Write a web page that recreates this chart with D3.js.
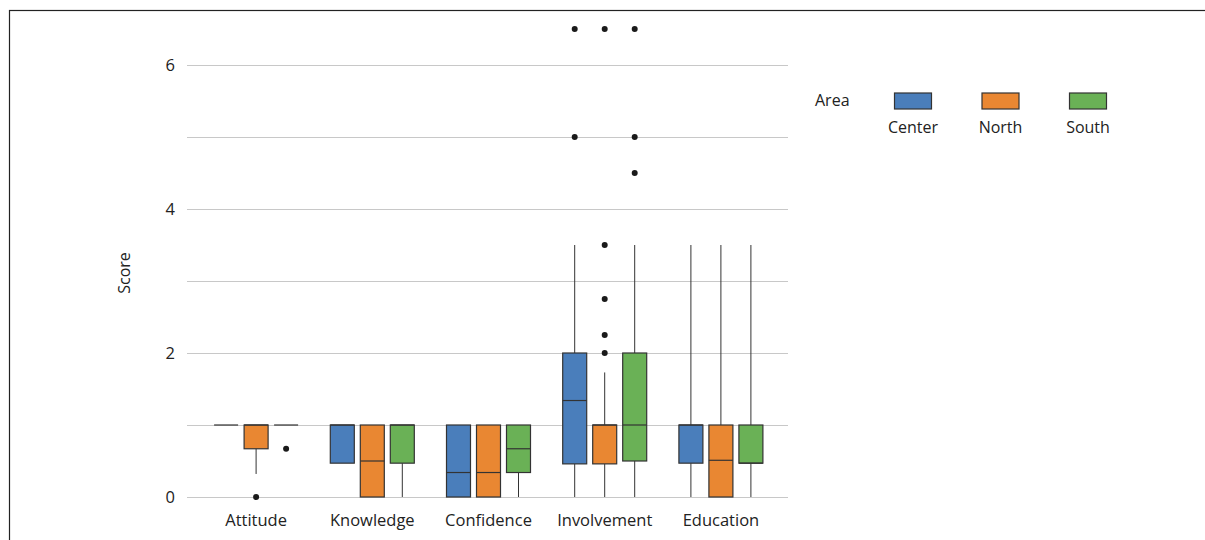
<!DOCTYPE html>
<html>
<head>
<meta charset="utf-8">
<script src="https://cdn.jsdelivr.net/npm/d3@7"></script>
<style>
body { margin: 0; background: #fff; }
text { font-family: "Open Sans", sans-serif; fill: #222; }
</style>
</head>
<body>
<script>
var categories = ["Attitude", "Knowledge", "Confidence", "Involvement", "Education"];
var areas = ["Center", "North", "South"];
var colors = ["#4a7ebb", "#e98732", "#6ab156"];
var yTicks = [0, 2, 4, 6];

// [low whisker, q1, median, q3, high whisker] per category
var centerBoxes = [[1, 1, 1, 1, 1], [0.47, 0.47, 1, 1, 1], [0, 0, 0.34, 1, 1], [0, 0.46, 1.34, 2, 3.5], [0, 0.47, 1, 1, 3.5]];
var northBoxes = [[0.32, 0.67, 1, 1, 1], [0, 0, 0.5, 1, 1], [0, 0, 0.34, 1, 1], [0, 0.46, 1, 1, 1.73], [0, 0, 0.51, 1, 3.5]];
var southBoxes = [[1, 1, 1, 1, 1], [0, 0.47, 1, 1, 1], [0, 0.34, 0.67, 1, 1], [0, 0.5, 1, 2, 3.5], [0, 0.47, 0.47, 1, 3.5]];

var centerOutliers = [[], [], [], [5, 6.5], []];
var northOutliers = [[0], [], [], [2, 2.25, 2.75, 3.5, 6.5], []];
var southOutliers = [[0.67], [], [], [4.5, 5, 6.5], []];

var boxes = [centerBoxes, northBoxes, southBoxes];
var outliers = [centerOutliers, northOutliers, southOutliers];

var width = 1205, height = 540;
var svg = d3.select("body").append("svg")
    .attr("width", width)
    .attr("height", height);

// frame
svg.append("rect")
    .attr("x", 9.5).attr("y", 10.5)
    .attr("width", 1300).attr("height", 600)
    .attr("fill", "none")
    .attr("stroke", "#222")
    .attr("stroke-width", 1.2);

var x = d3.scaleBand().domain(categories).range([198, 779]);
var xa = d3.scalePoint().domain(areas).range([-30, 30]);
var y = d3.scaleLinear().domain([0, 6]).range([497, 65]);
var color = d3.scaleOrdinal().domain(areas).range(colors);

// gridlines
svg.append("g")
  .selectAll("line")
  .data(d3.range(0, 7))
  .join("line")
    .attr("x1", 187).attr("x2", 788)
    .attr("y1", function(d) { return Math.round(y(d)) + 0.5; })
    .attr("y2", function(d) { return Math.round(y(d)) + 0.5; })
    .attr("stroke", "#c8c8c8")
    .attr("stroke-width", 1);

var yAxis = d3.axisLeft(y).tickValues(yTicks).tickFormat(d3.format("d")).tickSize(0).tickPadding(0);
svg.append("g")
    .attr("transform", "translate(175,0)")
    .call(yAxis)
    .call(function(g) {
        g.select(".domain").remove();
        g.selectAll("text").attr("font-size", 16.5).attr("fill", "#222")
            .attr("font-family", "Open Sans, sans-serif").attr("dy", "0.35em");
    });

svg.append("text")
    .attr("transform", "translate(130,273) rotate(-90)")
    .attr("text-anchor", "middle")
    .attr("font-size", 16)
    .text("Score");

var xAxis = d3.axisBottom(x).tickSize(0).tickPadding(0);
svg.append("g")
    .attr("transform", "translate(0,511)")
    .call(xAxis)
    .call(function(g) {
        g.select(".domain").remove();
        g.selectAll("text").attr("font-size", 16.5).attr("fill", "#222")
            .attr("font-family", "Open Sans, sans-serif").attr("dy", "0.9em");
    });

var boxW = 24;
var plot = svg.append("g");

areas.forEach(function(area, ai) {
    var g = plot.append("g");
    categories.forEach(function(cat, ci) {
        var s = boxes[ai][ci];
        var cx = x(cat) + x.bandwidth() / 2 + xa(area);
        // whiskers
        g.append("line")
            .attr("x1", cx).attr("x2", cx)
            .attr("y1", y(s[0])).attr("y2", y(s[1]))
            .attr("stroke", "#333").attr("stroke-width", 1);
        g.append("line")
            .attr("x1", cx).attr("x2", cx)
            .attr("y1", y(s[3])).attr("y2", y(s[4]))
            .attr("stroke", "#333").attr("stroke-width", 1);
        // box
        g.append("rect")
            .attr("x", cx - boxW / 2)
            .attr("y", y(s[3]))
            .attr("width", boxW)
            .attr("height", Math.max(0, y(s[1]) - y(s[3])))
            .attr("fill", color(area))
            .attr("stroke", "#333")
            .attr("stroke-width", 1.2);
        // median
        g.append("line")
            .attr("x1", cx - boxW / 2).attr("x2", cx + boxW / 2)
            .attr("y1", y(s[2])).attr("y2", y(s[2]))
            .attr("stroke", "#333").attr("stroke-width", 1.2);
        // outliers
        g.selectAll(null)
            .data(outliers[ai][ci])
            .join("circle")
            .attr("cx", cx)
            .attr("cy", function(d) { return y(d); })
            .attr("r", 3)
            .attr("fill", "#1a1a1a");
    });
});

// legend
var legend = svg.append("g");
legend.append("text")
    .attr("x", 815).attr("y", 106)
    .attr("font-size", 16)
    .text("Area");

var lx = d3.scalePoint().domain(areas).range([913, 1088]);
areas.forEach(function(area) {
    legend.append("rect")
        .attr("x", lx(area) - 18.5).attr("y", 93)
        .attr("width", 37).attr("height", 16)
        .attr("fill", color(area))
        .attr("stroke", "#333")
        .attr("stroke-width", 1.2);
    legend.append("text")
        .attr("x", lx(area)).attr("y", 133)
        .attr("text-anchor", "middle")
        .attr("font-size", 16)
        .text(area);
});
</script>
</body>
</html>
